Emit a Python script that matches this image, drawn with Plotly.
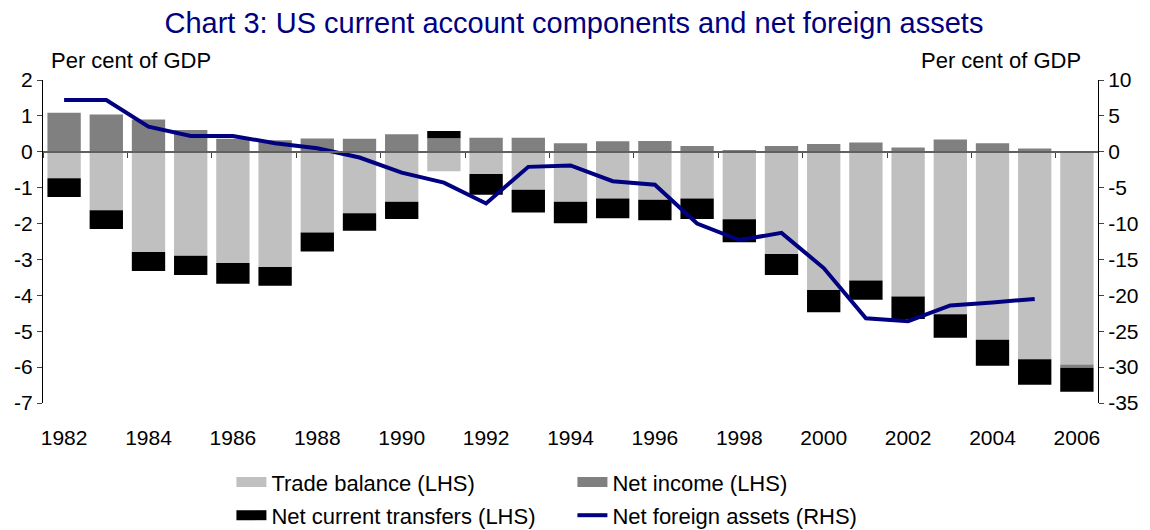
import plotly.graph_objects as go

years = list(range(1982, 2007))
trade_balance = [-0.74, -1.63, -2.79, -2.90, -3.10, -3.21, -2.25, -1.71, -1.39, -0.54,
                 -0.62, -1.06, -1.39, -1.30, -1.34, -1.30, -1.88, -2.85, -3.85, -3.59,
                 -4.03, -4.53, -5.24, -5.78, -5.93]
net_income = [1.09, 1.04, 0.90, 0.61, 0.36, 0.32, 0.37, 0.36, 0.49, 0.38,
              0.39, 0.39, 0.24, 0.29, 0.30, 0.16, 0.05, 0.16, 0.22, 0.26,
              0.12, 0.34, 0.24, 0.09, -0.09]
net_transfers = [-0.52, -0.52, -0.53, -0.53, -0.58, -0.52, -0.53, -0.49, -0.48, 0.20,
                 -0.58, -0.63, -0.60, -0.55, -0.57, -0.57, -0.64, -0.58, -0.62, -0.53,
                 -0.63, -0.65, -0.72, -0.71, -0.67]
nfa_years = list(range(1982, 2006))
net_foreign_assets = [7.2, 7.2, 3.5, 2.2, 2.2, 1.2, 0.5, -0.8, -2.9, -4.3,
                      -7.2, -2.1, -1.9, -4.1, -4.6, -10.0, -12.3, -11.3, -16.2, -23.2,
                      -23.6, -21.4, -21.0, -20.5]
tick_years = list(range(1982, 2007, 2))
boundary_ticks = [y - 0.5 for y in range(1982, 2007, 2)]
lhs_ticks = list(range(-7, 3))
rhs_ticks = list(range(-35, 11, 5))

FONT = "Liberation Sans, Arial, sans-serif"
fig = go.Figure()

# stacked bars (LHS)
bars = [("Trade balance (LHS)", trade_balance, "#c0c0c0", "legend"),
        ("Net income (LHS)", net_income, "#808080", "legend"),
        ("Net current transfers (LHS)", net_transfers, "#000000", "legend2")]
for name, vals, col, leg in bars:
    fig.add_trace(go.Bar(x=years, y=vals, name=name, marker_color=col,
                         marker_line_width=0, legendgroup=name, showlegend=False))
    # wide swatch for the legend
    fig.add_trace(go.Scatter(x=[None], y=[None], mode="lines", name=name, legendgroup=name,
                             line=dict(color=col, width=14), legend=leg))

# net foreign assets (RHS)
fig.add_trace(go.Scatter(x=nfa_years, y=net_foreign_assets, name="Net foreign assets (RHS)",
                         mode="lines", line=dict(color="#000080", width=4),
                         xaxis="x2", yaxis="y2", legend="legend2"))

# page body adds an 8px offset, so the figure is 8px smaller than the window
fig.update_layout(
    width=1142, height=522,
    margin=dict(l=35, r=52, t=72, b=127, autoexpand=False),
    paper_bgcolor="white", plot_bgcolor="white",
    font=dict(family=FONT, size=21, color="black"),
    barmode="relative", bargap=0.21,
    title=dict(text="Chart 3: US current account components and net foreign assets",
               x=0.4956, xanchor="center", y=0.972, yanchor="middle",
               font=dict(size=29, color="#000080", family=FONT)),
    xaxis=dict(range=[1981.5, 2006.5], tickvals=tick_years, ticks="", showline=False,
               showgrid=False, zeroline=False, ticklabelstandoff=20, automargin=False),
    xaxis2=dict(overlaying="x", anchor="free", position=7 / 9, range=[1981.5, 2006.5],
                tickvals=boundary_ticks, ticks="outside", ticklen=5, tickcolor="#404040",
                showticklabels=False, showline=True, linecolor="#606060", linewidth=2,
                showgrid=False, zeroline=False, automargin=False),
    yaxis=dict(range=[-7, 2], tickvals=lhs_ticks, ticktext=[str(v) for v in lhs_ticks],
               ticks="outside", ticklen=5, showline=True, automargin=False,
               linecolor="black", linewidth=1, showgrid=False, zeroline=False),
    yaxis2=dict(overlaying="y", side="right", anchor="x", range=[-35, 10],
                tickvals=rhs_ticks, ticktext=[str(v) for v in rhs_ticks], automargin=False,
                ticks="outside", ticklen=5, showline=True, linecolor="black", linewidth=1,
                showgrid=False, zeroline=False),
    legend=dict(orientation="h", x=0.1786, y=-0.245, xanchor="left", yanchor="middle",
                entrywidth=296, entrywidthmode="pixels", font=dict(size=22),
                bgcolor="rgba(0,0,0,0)"),
    legend2=dict(orientation="h", x=0.1786, y=-0.348, xanchor="left", yanchor="middle",
                 entrywidth=296, entrywidthmode="pixels", font=dict(size=22),
                 bgcolor="rgba(0,0,0,0)"),
)

fig.add_annotation(text="Per cent of GDP", xref="paper", yref="paper", x=0.0057, y=1.059,
                   xanchor="left", yanchor="middle", showarrow=False, font=dict(size=22))
fig.add_annotation(text="Per cent of GDP", xref="paper", yref="paper", x=0.986, y=1.059,
                   xanchor="right", yanchor="middle", showarrow=False, font=dict(size=22))

fig.write_html("out.html")
